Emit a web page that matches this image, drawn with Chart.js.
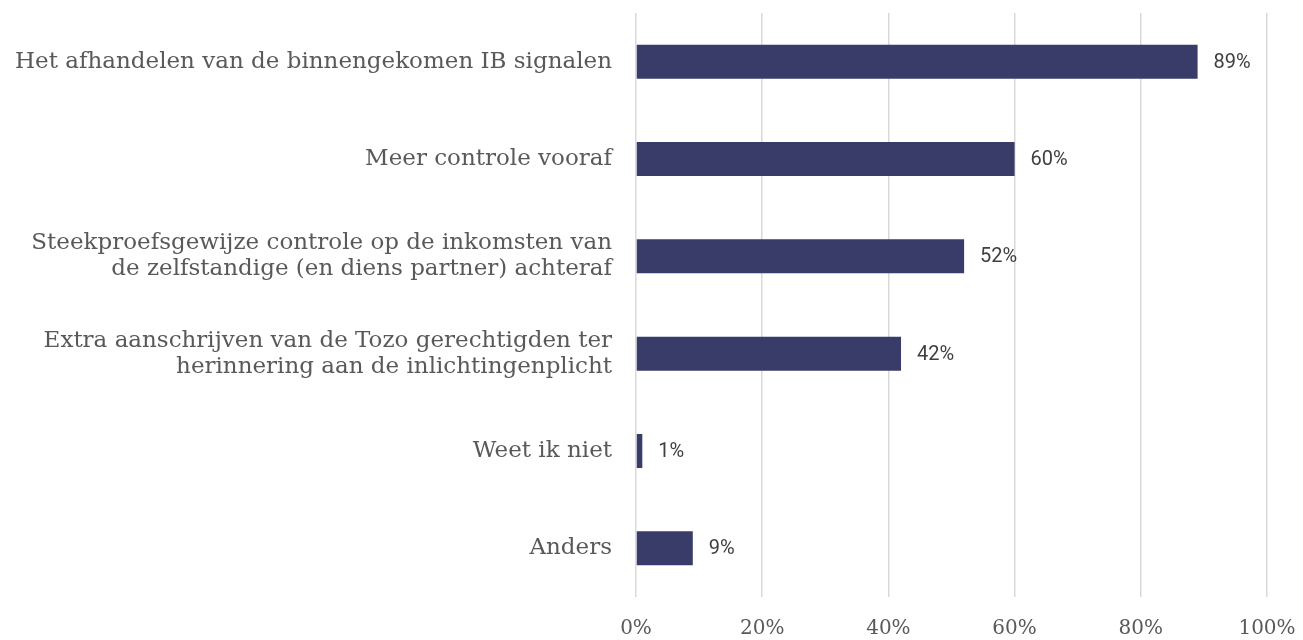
<!DOCTYPE html>
<html>
<head>
<meta charset="utf-8">
<script src="https://cdn.jsdelivr.net/npm/chart.js@4"></script>
<style>
  html, body { margin: 0; padding: 0; background: #fff; }
  #wrap { width: 1303px; height: 640px; }
</style>
</head>
<body>
<div id="wrap"><canvas id="myChart" width="1303" height="640"></canvas></div>
<script>
// categories (multi-line ones split into arrays)
const categories = [
  'Het afhandelen van de binnengekomen IB signalen',
  'Meer controle vooraf',
  ['Steekproefsgewijze controle op de inkomsten van', 'de zelfstandige (en diens partner) achteraf'],
  ['Extra aanschrijven van de Tozo gerechtigden ter', 'herinnering aan de inlichtingenplicht'],
  'Weet ik niet',
  'Anders'
];
const percentages = [89, 60, 52, 42, 1, 9];
const tickValues = [0, 20, 40, 60, 80, 100];

const barColor = '#393c69';
const labelFont = '"DejaVu Serif", serif';

// draws the "89%" style labels next to each bar
const valueLabels = {
  id: 'valueLabels',
  afterDatasetsDraw(chart) {
    const c = chart.ctx;
    const meta = chart.getDatasetMeta(0);
    c.save();
    c.font = '20px Roboto, "Open Sans", sans-serif';
    c.fillStyle = '#404040';
    c.textAlign = 'left';
    c.textBaseline = 'middle';
    meta.data.forEach((bar, i) => {
      c.fillText(percentages[i] + '%', bar.x + 16, bar.y + 1);
    });
    c.restore();
  }
};

const ctx = document.getElementById('myChart').getContext('2d');
const chart = new Chart(ctx, {
  type: 'bar',
  data: {
    labels: categories,
    datasets: [{
      data: percentages,
      backgroundColor: barColor,
      borderWidth: 0,
      barPercentage: 0.35,
      categoryPercentage: 1
    }]
  },
  options: {
    indexAxis: 'y',
    responsive: false,
    animation: false,
    layout: { padding: { top: 13, right: 36, bottom: 0, left: 0 } },
    plugins: {
      legend: { display: false },
      tooltip: { enabled: false }
    },
    scales: {
      x: {
        min: 0,
        max: 100,
        afterBuildTicks: axis => {
          axis.ticks = tickValues.map(v => ({ value: v }));
        },
        grid: { color: '#d9d9d9', lineWidth: 1.5, drawTicks: false },
        border: { display: false },
        ticks: {
          padding: 20,
          color: '#595959',
          font: { family: labelFont, size: 20 },
          callback: v => v + '%'
        },
        afterFit: axis => {
          axis.height = 43;
          axis.paddingLeft = 0;
          axis.paddingRight = 0;
        }
      },
      y: {
        grid: { display: false, drawTicks: false },
        border: { display: false },
        ticks: {
          padding: 24,
          color: '#595959',
          font: { family: labelFont, size: 23, lineHeight: 1.13 }
        },
        afterFit: axis => {
          axis.width = 636;
          axis.paddingTop = 0;
          axis.paddingBottom = 0;
        }
      }
    }
  },
  plugins: [valueLabels]
});
</script>
</body>
</html>
